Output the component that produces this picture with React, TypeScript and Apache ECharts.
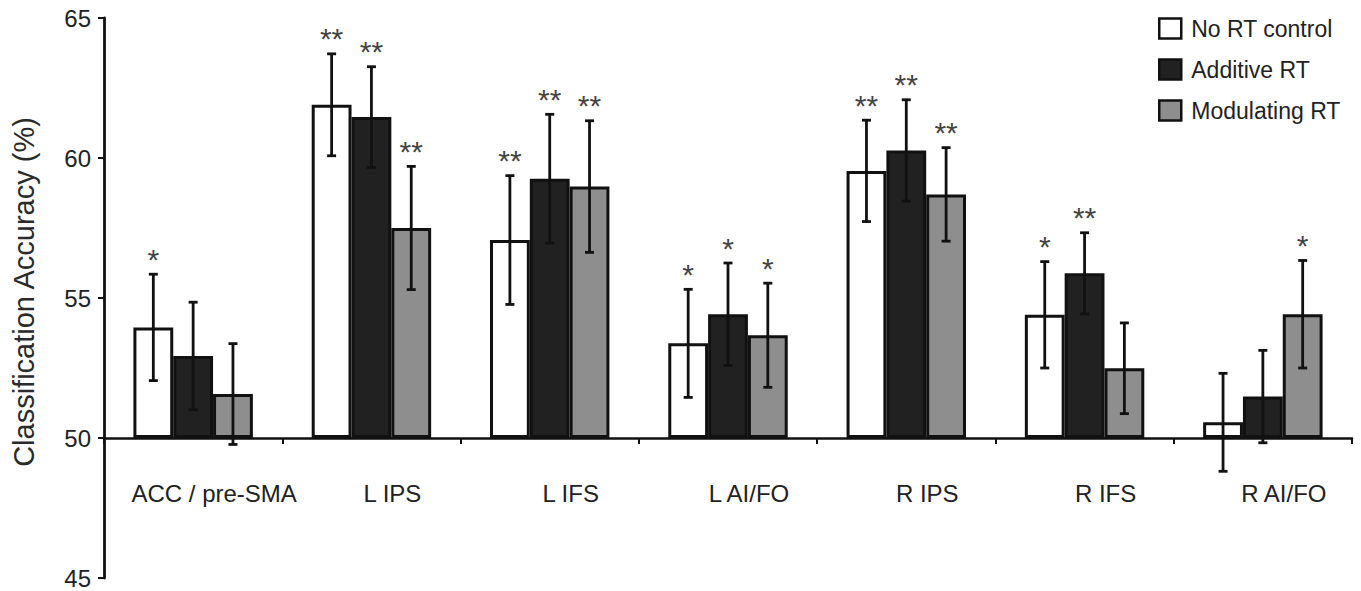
import * as echarts from 'echarts';
import { useEffect, useRef } from 'react';

const categories = ['ACC / pre-SMA', 'L IPS', 'L IFS', 'L AI/FO', 'R IPS', 'R IFS', 'R AI/FO'];
const seriesNames = ['No RT control', 'Additive RT', 'Modulating RT'];

const noRT = [53.95, 61.9, 57.07, 53.38, 59.54, 54.4, 50.56];
const noRTErr = [1.9, 1.82, 2.3, 1.93, 1.81, 1.9, 1.75];
const noRTSig = ['*', '**', '**', '*', '**', '*', ''];

const additive = [52.93, 61.46, 59.26, 54.42, 60.27, 55.88, 51.48];
const additiveErr = [1.92, 1.8, 2.3, 1.83, 1.81, 1.45, 1.65];
const additiveSig = ['', '**', '**', '*', '**', '**', ''];

const modulating = [51.57, 57.5, 58.98, 53.67, 58.7, 52.49, 54.42];
const modulatingErr = [1.8, 2.2, 2.35, 1.86, 1.67, 1.62, 1.92];
const modulatingSig = ['', '**', '**', '*', '**', '', '*'];

const yTicks = [45, 50, 55, 60, 65];
const chanceLevel = 50;

const FONT = 'Liberation Sans, Arial, Helvetica, sans-serif';
const fills = ['#ffffff', '#212121', '#8e8e8e'];
const CAT_GAP = 0.33;

const means = [noRT, additive, modulating];
const errs = [noRTErr, additiveErr, modulatingErr];
const sigs = [noRTSig, additiveSig, modulatingSig];

export default function App() {
  const ref = useRef<HTMLDivElement>(null);
  useEffect(() => {
    if (!ref.current) return;
    const chart = echarts.init(ref.current, null, { renderer: 'svg' });

    const barSeries = seriesNames.map((name, s) => ({
      name,
      type: 'bar',
      xAxisIndex: 0,
      yAxisIndex: 0,
      data: means[s].map((v) => +(v - chanceLevel).toFixed(3)),
      barGap: '0%',
      barCategoryGap: CAT_GAP * 100 + '%',
      itemStyle: { color: fills[s], borderColor: '#111', borderWidth: 3 },
      z: 2,
    }));

    const errSeries = seriesNames.map((name, s) => ({
      name: name + ' err',
      type: 'custom',
      xAxisIndex: 0,
      yAxisIndex: 0,
      z: 5,
      data: means[s].map((v, i) => [i, v - chanceLevel, errs[s][i]]),
      renderItem: (params: any, api: any) => {
        const i = api.value(0);
        const v = api.value(1);
        const e = api.value(2);
        const catW = api.size([1, 0])[0];
        const bw = (catW * (1 - CAT_GAP)) / 3;
        const c = api.coord([i, v]);
        const x = c[0] + (s - 1) * bw;
        const top = api.coord([i, v + e])[1];
        const bot = api.coord([i, v - e])[1];
        const cap = 4.5;
        const ls = { stroke: '#111', lineWidth: 2.8 };
        const children: any[] = [
          { type: 'line', shape: { x1: x, y1: top, x2: x, y2: bot }, style: ls },
          { type: 'line', shape: { x1: x - cap, y1: top, x2: x + cap, y2: top }, style: ls },
          { type: 'line', shape: { x1: x - cap, y1: bot, x2: x + cap, y2: bot }, style: ls },
        ];
        const sig = sigs[s][params.dataIndex];
        if (sig) {
          children.push({
            type: 'text',
            x,
            y: top - 15,
            style: {
              text: sig,
              fill: '#444',
              fontSize: 30,
              fontFamily: FONT,
              align: 'center',
              verticalAlign: 'middle',
            },
          });
        }
        return { type: 'group', children };
      },
    }));

    chart.setOption({
      animation: false,
      backgroundColor: '#ffffff',
      grid: [
        { left: 104, right: 9, top: 18, bottom: 13, containLabel: false, outerBoundsMode: 'none' },
        { left: 104, right: 9, top: 18, bottom: 153, containLabel: false, outerBoundsMode: 'none' },
      ],
      legend: {
        data: seriesNames,
        orient: 'vertical',
        left: 1153,
        top: 12,
        icon: 'rect',
        itemWidth: 22,
        itemHeight: 20,
        itemGap: 18,
        selectedMode: false,
        itemStyle: { borderColor: '#111', borderWidth: 2.5 },
        textStyle: { fontSize: 23, color: '#222', fontFamily: FONT, padding: [0, 0, 0, 5] },
      },
      xAxis: [
        {
          type: 'category',
          gridIndex: 0,
          data: categories,
          axisLine: { onZero: true, lineStyle: { color: '#111', width: 2.5 } },
          axisTick: { show: true, length: 6, lineStyle: { color: '#111', width: 2 } },
          axisLabel: { show: false },
          splitLine: { show: false },
        },
        {
          type: 'category',
          gridIndex: 1,
          data: categories,
          axisLine: { show: false },
          axisTick: { show: false },
          axisLabel: {
            interval: 0,
            margin: 43,
            fontSize: 24,
            color: '#222',
            fontFamily: FONT,
            padding: [0, 0, 0, 42],
          },
          splitLine: { show: false },
        },
      ],
      yAxis: [
        {
          type: 'value',
          gridIndex: 0,
          min: yTicks[0] - chanceLevel,
          max: yTicks[yTicks.length - 1] - chanceLevel,
          interval: 5,
          axisLine: { show: true, lineStyle: { color: '#111', width: 2.8 } },
          axisTick: { show: true, length: 6, lineStyle: { color: '#111', width: 2 } },
          axisLabel: {
            margin: 13,
            fontSize: 24,
            color: '#222',
            fontFamily: FONT,
            formatter: (v: number) => String(v + chanceLevel),
          },
          splitLine: { show: false },
        },
        {
          type: 'value',
          gridIndex: 1,
          min: 0,
          max: 15,
          interval: 5,
          show: false,
        },
      ],
      graphic: [
        {
          type: 'text',
          x: 24,
          y: 292,
          rotation: Math.PI / 2,
          style: {
            text: 'Classification Accuracy (%)',
            fill: '#2a2a2a',
            fontSize: 29,
            fontFamily: FONT,
            align: 'center',
            verticalAlign: 'middle',
          },
        },
      ],
      series: [...barSeries, ...errSeries],
    });
    return () => chart.dispose();
  }, []);
  return (
    <div
      ref={ref}
      style={{ position: 'absolute', left: 0, top: 0, width: 1361, height: 591, background: '#fff' }}
    />
  );
}
